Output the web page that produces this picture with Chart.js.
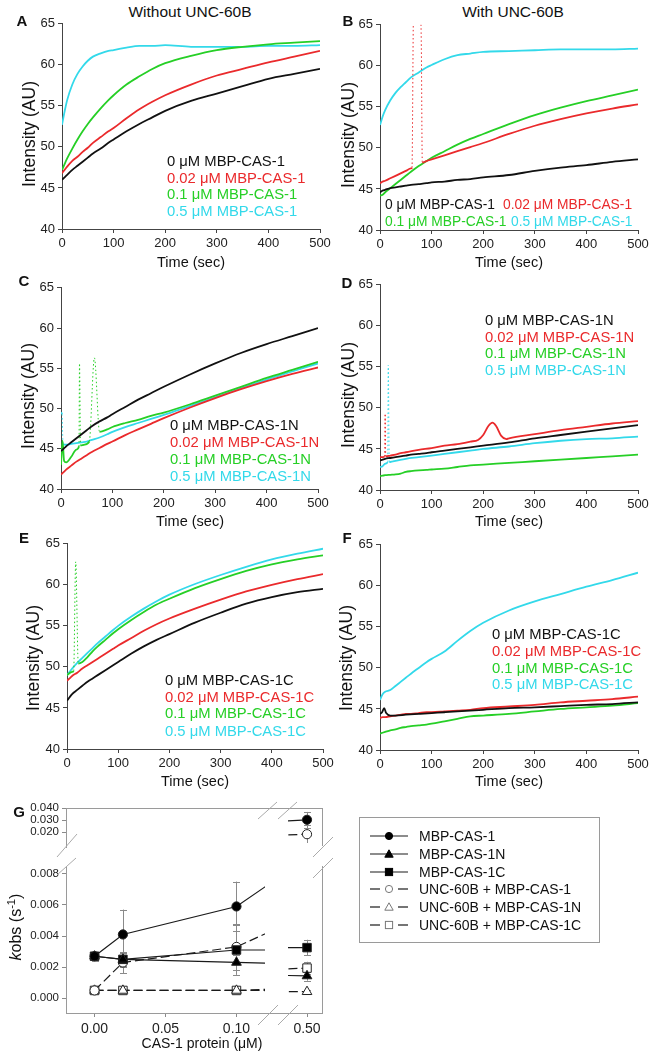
<!DOCTYPE html>
<html lang="en">
<head>
<meta charset="UTF-8">
<title>CAS-1 / UNC-60B kinetics</title>
<script src="https://cdn.jsdelivr.net/npm/chart.js"></script>
<style>
  body { margin: 0; background: #fff; font-family: "Liberation Sans", Arial, sans-serif; color: #111; }
  #page { position: relative; width: 653px; height: 1058px; overflow: hidden; }
  .cv { position: absolute; }
  .t { position: absolute; white-space: nowrap; line-height: 1; transform: translate(0, -50%); }
  .c { transform: translate(-50%, -50%); }
  .rot { transform: translate(-50%, -50%) rotate(-90deg); }
  .lbl { font-weight: bold; font-size: 15px; }
  .ttl { font-size: 15.5px; }
  .axt { font-size: 14.5px; }
  .ayt { font-size: 17.5px; }
  .leg { font-size: 14.5px; }
  #gLegend { position: absolute; left: 359px; top: 817px; width: 239px; height: 124px; border: 1px solid #9a9a9a; }
  #deco { position: absolute; left: 0; top: 0; }
</style>
</head>
<body>
<div id="page">
  <div class="t c ttl" style="left:190px;top:12px">Without UNC-60B</div>
  <div class="t c ttl" style="left:513px;top:12px">With UNC-60B</div>
</div>

<script>
  // ---- kinetics traces (time in sec, intensity in AU) ----
  const T = [0, 5, 10, 20, 30, 40, 50, 60, 75, 90, 100, 125, 150, 175, 200, 250, 300, 350, 400, 450, 500];

  // A: without UNC-60B, MBP-CAS-1
  const aBlack = [46.0, 46.3, 46.6, 47.2, 47.7, 48.2, 48.7, 49.2, 49.8, 50.5, 50.9, 51.9, 52.8, 53.6, 54.4, 55.6, 56.5, 57.4, 58.3, 58.9, 59.5];
  const aRed   = [46.8, 47.2, 47.6, 48.3, 48.8, 49.4, 49.9, 50.5, 51.2, 51.9, 52.3, 53.5, 54.6, 55.5, 56.3, 57.6, 58.7, 59.5, 60.3, 61.0, 61.7];
  const aGreen = [47.2, 47.9, 48.6, 49.8, 50.9, 51.9, 52.8, 53.6, 54.7, 55.7, 56.3, 57.6, 58.6, 59.5, 60.2, 61.1, 61.8, 62.2, 62.5, 62.7, 62.9];
  const aCyan  = [52.7, 54.3, 55.7, 57.6, 58.9, 59.8, 60.5, 61.0, 61.4, 61.7, 61.8, 62.1, 62.3, 62.3, 62.4, 62.2, 62.2, 62.2, 62.3, 62.3, 62.4];

  // B: with UNC-60B, MBP-CAS-1
  const bBlack = [44.6, 44.8, 44.9, 45.1, 45.2, 45.3, 45.4, 45.5, 45.6, 45.7, 45.8, 45.9, 46.1, 46.2, 46.4, 46.7, 47.2, 47.6, 47.9, 48.3, 48.6];
  const bRedT  = [0, 5, 10, 20, 30, 40, 50, 60, 62, 65, 78, 80, 82, 90, 100, 125, 150, 175, 200, 250, 300, 350, 400, 450, 500];
  const bRed   = [45.7, 45.9, 46.0, 46.3, 46.6, 46.9, 47.2, 47.5, 47.6, 66.5, 66.5, 63.0, 48.2, 48.4, 48.6, 49.1, 49.6, 50.1, 50.6, 51.7, 52.7, 53.5, 54.2, 54.8, 55.3];
  const bGreen = [44.2, 44.3, 44.6, 45.1, 45.6, 46.1, 46.6, 47.1, 47.8, 48.4, 48.8, 49.6, 50.4, 51.1, 51.7, 52.9, 54.0, 54.9, 55.7, 56.4, 57.1];
  const bCyan  = [52.8, 53.8, 54.6, 55.8, 56.7, 57.4, 58.0, 58.6, 59.2, 59.8, 60.1, 60.8, 61.3, 61.5, 61.7, 61.8, 61.9, 62.0, 62.0, 62.0, 62.1];

  // C: without UNC-60B, MBP-CAS-1N
  const cBlack  = [44.7, 45.0, 45.3, 45.8, 46.3, 46.8, 47.3, 47.8, 48.4, 48.9, 49.3, 50.2, 51.1, 51.9, 52.7, 54.2, 55.6, 56.9, 58.0, 59.0, 60.0];
  const cRed    = [41.8, 42.1, 42.4, 42.9, 43.4, 43.8, 44.2, 44.6, 45.1, 45.6, 45.9, 46.7, 47.4, 48.1, 48.8, 50.1, 51.3, 52.4, 53.4, 54.3, 55.1];
  const cGreenT = [0, 3, 6, 10, 20, 30, 35, 36, 38, 45, 55, 65, 75, 90, 100, 125, 150, 175, 200, 250, 300, 350, 400, 450, 500];
  const cGreen  = [43.0, 46.0, 43.5, 43.3, 44.0, 44.9, 45.3, 55.6, 45.4, 45.5, 45.9, 56.3, 47.1, 47.4, 47.7, 48.2, 48.6, 49.1, 49.5, 50.5, 51.6, 52.7, 53.8, 54.8, 55.8];
  const cCyanT  = [0, 2, 4, 10, 20, 30, 40, 50, 60, 75, 90, 100, 125, 150, 175, 200, 250, 300, 350, 400, 450, 500];
  const cCyan   = [49.5, 49.3, 45.6, 45.5, 45.6, 45.7, 45.8, 45.9, 46.1, 46.4, 46.8, 47.1, 47.7, 48.2, 48.7, 49.2, 50.3, 51.4, 52.5, 53.6, 54.6, 55.6];

  // D: with UNC-60B, MBP-CAS-1N
  const dBlack = [43.6, 43.7, 43.8, 43.9, 44.0, 44.1, 44.2, 44.3, 44.4, 44.5, 44.6, 44.8, 45.0, 45.2, 45.4, 45.8, 46.3, 46.7, 47.1, 47.5, 47.9];
  const dRedT  = [0, 5, 9, 10, 11, 20, 30, 40, 50, 75, 100, 125, 150, 175, 190, 200, 210, 218, 225, 235, 245, 250, 300, 350, 400, 450, 500];
  const dRed   = [44.0, 44.0, 44.1, 49.3, 44.1, 44.2, 44.3, 44.5, 44.6, 44.9, 45.1, 45.4, 45.6, 45.9, 46.1, 46.7, 47.8, 48.2, 47.8, 46.6, 46.2, 46.3, 46.8, 47.3, 47.7, 48.1, 48.4];
  const dGreen = [41.7, 41.75, 41.8, 41.85, 41.9, 42.0, 42.2, 42.3, 42.4, 42.45, 42.5, 42.6, 42.8, 43.0, 43.1, 43.3, 43.5, 43.7, 43.9, 44.1, 44.3];
  const dCyanT = [0, 5, 10, 15, 16, 18, 25, 50, 75, 100, 125, 150, 175, 200, 250, 300, 350, 400, 450, 500];
  const dCyan  = [42.8, 42.9, 43.2, 43.4, 55.2, 43.4, 43.5, 43.8, 44.0, 44.2, 44.4, 44.6, 44.8, 45.0, 45.3, 45.7, 46.0, 46.2, 46.3, 46.5];

  // E: without UNC-60B, MBP-CAS-1C
  const eBlack  = [45.9, 46.3, 46.7, 47.2, 47.7, 48.2, 48.6, 49.0, 49.6, 50.2, 50.6, 51.6, 52.5, 53.3, 54.0, 55.4, 56.6, 57.7, 58.5, 59.1, 59.5];
  const eRed    = [48.3, 48.6, 48.9, 49.3, 49.8, 50.2, 50.6, 51.0, 51.6, 52.2, 52.6, 53.5, 54.4, 55.2, 55.9, 57.1, 58.2, 59.2, 60.0, 60.7, 61.3];
  const eGreenT = [0, 10, 13, 17, 22, 30, 40, 50, 60, 75, 90, 100, 125, 150, 175, 200, 250, 300, 350, 400, 450, 500];
  const eGreen  = [49.0, 49.4, 49.5, 62.8, 50.4, 50.6, 51.2, 51.9, 52.5, 53.3, 54.1, 54.6, 55.7, 56.7, 57.6, 58.3, 59.6, 60.7, 61.7, 62.5, 63.1, 63.6];
  const eCyan   = [49.0, 49.4, 49.8, 50.5, 51.1, 51.7, 52.3, 52.9, 53.7, 54.5, 55.0, 56.1, 57.1, 58.0, 58.8, 60.1, 61.2, 62.2, 63.1, 63.8, 64.4];

  // F: with UNC-60B, MBP-CAS-1C
  const fBlackT = [0, 4, 8, 12, 20, 30, 50, 75, 100, 125, 150, 200, 250, 300, 350, 400, 450, 500];
  const fBlack  = [44.4, 44.6, 45.1, 44.5, 44.2, 44.2, 44.3, 44.4, 44.5, 44.6, 44.7, 44.9, 45.1, 45.2, 45.35, 45.5, 45.6, 45.8];
  const fRed    = [43.9, 44.0, 44.0, 44.1, 44.2, 44.3, 44.4, 44.4, 44.5, 44.6, 44.6, 44.7, 44.8, 44.9, 45.1, 45.3, 45.5, 45.8, 46.0, 46.2, 46.5];
  const fGreen  = [42.0, 42.1, 42.2, 42.4, 42.5, 42.7, 42.8, 42.9, 43.0, 43.1, 43.2, 43.5, 43.8, 44.1, 44.2, 44.4, 44.7, 45.0, 45.2, 45.4, 45.7];
  const fCyan   = [46.1, 46.8, 47.1, 47.3, 47.8, 48.3, 48.8, 49.3, 50.0, 50.7, 51.1, 52.0, 53.3, 54.5, 55.5, 57.0, 58.1, 59.0, 59.9, 60.7, 61.6];

  const TIME_TICKS = [0, 100, 200, 300, 400, 500];
  const INT_TICKS = [40, 45, 50, 55, 60, 65];
  const CONC_LABELS = ['0', '0.02', '0.1', '0.5'];

  // ---- G: kobs vs CAS-1 concentration ----
  const gConc = [0, 0.02, 0.10, 0.50];
  const cas1     = [0.0027, 0.0041, 0.0059, 0.0310];
  const cas1Err  = [0.0003, 0.0016, 0.0016, 0.0060];
  const cas1N    = [0.0027, 0.0025, 0.0023, 0.0014];
  const cas1NErr = [0.0002, 0.0004, 0.0005, 0.0003];
  const cas1C    = [0.0027, 0.0025, 0.0031, 0.0032];
  const cas1CErr = [0.0002, 0.0005, 0.0016, 0.0005];
  const unc1     = [0.0005, 0.0023, 0.0033, 0.0200];
  const unc1Err  = [0.0001, 0.0007, 0.0015, 0.0070];
  const unc1N    = [0.0005, 0.0005, 0.0005, 0.0004];
  const unc1NErr = [0.0001, 0.0001, 0.0001, 0.0001];
  const unc1C    = [0.0005, 0.0005, 0.0005, 0.0019];
  const unc1CErr = [0.0001, 0.0001, 0.0001, 0.0004];

  const G_XTICKS_LEFT = [0, 0.05, 0.10];
  const G_XTICKS_RIGHT = [0.50];
  const G_YTICKS_LOW = [0, 0.002, 0.004, 0.006, 0.008];
  const G_YTICKS_HIGH = [0.020, 0.030, 0.040];

  const COLORS = ['#111111', '#ea2a2c', '#26cf26', '#33d9ea'];
  const FONT = '"Liberation Sans", Arial, sans-serif';
  Chart.defaults.font.family = FONT;

  const page = document.getElementById('page');

  function addText(x, y, html, cls, style) {
    const d = document.createElement('div');
    d.className = 't ' + cls;
    d.style.left = x + 'px';
    d.style.top = y + 'px';
    if (style) Object.assign(d.style, style);
    d.innerHTML = html;
    page.appendChild(d);
    return d;
  }

  const PANELS = [
    { key: 'A', rect: [62, 23, 320, 229], protein: 'MBP-CAS-1', legSize: 14.8,
      series: [[T, aBlack], [T, aRed], [T, aGreen], [T, aCyan]],
      legend: [[167, 161], [167, 178], [167, 194], [167, 211]],
      letter: [22, 20], xt: [191, 262], yt: [30, 134] },
    { key: 'B', rect: [380, 24, 638, 230], protein: 'MBP-CAS-1', legSize: 13.8,
      series: [[T, bBlack], [bRedT, bRed], [T, bGreen], [T, bCyan]],
      legend: [[385, 205], [503, 205], [385, 222], [511, 222]],
      letter: [348, 20], xt: [509, 262], yt: [349, 135] },
    { key: 'C', rect: [61, 287, 318, 489], protein: 'MBP-CAS-1N', legSize: 14.8,
      series: [[T, cBlack], [T, cRed], [cGreenT, cGreen], [cCyanT, cCyan]],
      legend: [[170, 425], [170, 442], [170, 459], [170, 476]],
      letter: [24, 280], xt: [190, 521], yt: [29, 396] },
    { key: 'D', rect: [380, 284, 638, 490], protein: 'MBP-CAS-1N', legSize: 14.8,
      series: [[T, dBlack], [dRedT, dRed], [T, dGreen], [dCyanT, dCyan]],
      legend: [[485, 320], [485, 337], [485, 353], [485, 370]],
      letter: [347, 282], xt: [509, 521], yt: [349, 395] },
    { key: 'E', rect: [67, 543, 323, 749], protein: 'MBP-CAS-1C', legSize: 14.8,
      series: [[T, eBlack], [T, eRed], [eGreenT, eGreen], [T, eCyan]],
      legend: [[165, 680], [165, 697], [165, 713], [165, 731]],
      letter: [24, 537], xt: [195, 781], yt: [34, 658] },
    { key: 'F', rect: [380, 544, 638, 750], protein: 'MBP-CAS-1C', legSize: 14.8,
      series: [[fBlackT, fBlack], [T, fRed], [T, fGreen], [T, fCyan]],
      legend: [[492, 634], [492, 651], [492, 668], [492, 684]],
      letter: [347, 537], xt: [509, 781], yt: [347, 658] }
  ];

  const isSpike = c => Math.abs(c.p1.parsed.y - c.p0.parsed.y) > 3;

  function tickFix(list) {
    return s => { s.ticks = list.map(v => ({ value: v })); };
  }

  function makeCanvas(left, top, w, h) {
    const cv = document.createElement('canvas');
    cv.className = 'cv';
    cv.width = w; cv.height = h;
    cv.style.left = left + 'px'; cv.style.top = top + 'px';
    page.appendChild(cv);
    return cv;
  }

  function makePanel(p) {
    const [L, Tp, R, B] = p.rect;
    const padL = 60, padT = 10, padR = 16, padB = 26;
    const cv = makeCanvas(L - padL, Tp - padT, R - L + padL + padR, B - Tp + padT + padB);
    const axisGrid = { drawOnChartArea: false, drawTicks: true, tickLength: 4, color: '#444', lineWidth: 1 };
    const axisTicks = { font: { size: 13 }, color: '#222', padding: 3, autoSkip: false, maxRotation: 0 };
    new Chart(cv, {
      type: 'line',
      data: {
        datasets: p.series.map((s, i) => ({
          data: s[0].map((t, j) => ({ x: t, y: s[1][j] })),
          borderColor: COLORS[i],
          borderWidth: 1.8,
          pointRadius: 0,
          cubicInterpolationMode: 'monotone',
          segment: {
            borderDash: c => isSpike(c) ? [1.5, 2.5] : undefined,
            borderWidth: c => isSpike(c) ? 1 : undefined
          }
        }))
      },
      options: {
        responsive: false, animation: false, events: [],
        layout: { padding: { left: 0, top: padT, right: padR, bottom: 0 } },
        plugins: { legend: { display: false }, tooltip: { enabled: false } },
        scales: {
          x: { type: 'linear', min: 0, max: 500,
               afterFit: s => { s.height = padB; }, afterBuildTicks: tickFix(TIME_TICKS),
               ticks: axisTicks, grid: axisGrid, border: { display: true, color: '#444' } },
          y: { type: 'linear', min: 40, max: 65,
               afterFit: s => { s.width = padL; }, afterBuildTicks: tickFix(INT_TICKS),
               ticks: axisTicks, grid: axisGrid, border: { display: true, color: '#444' } }
        }
      }
    });
    addText(p.letter[0], p.letter[1], p.key, 'c lbl');
    addText(p.xt[0], p.xt[1], 'Time (sec)', 'c axt');
    addText(p.yt[0], p.yt[1], 'Intensity (AU)', 'rot ayt');
    p.legend.forEach((pos, i) => {
      addText(pos[0], pos[1], CONC_LABELS[i] + ' \u03bcM ' + p.protein, 'leg',
              { color: COLORS[i], fontSize: p.legSize + 'px' });
    });
  }

  PANELS.forEach(makePanel);

  // ---- panel G: four pieces of a broken-axis plot ----
  const G_SERIES = [
    { label: 'MBP-CAS-1', y: cas1, err: cas1Err, shape: 'circle', filled: true, dashed: false },
    { label: 'MBP-CAS-1N', y: cas1N, err: cas1NErr, shape: 'triangle', filled: true, dashed: false },
    { label: 'MBP-CAS-1C', y: cas1C, err: cas1CErr, shape: 'rect', filled: true, dashed: false },
    { label: 'UNC-60B + MBP-CAS-1', y: unc1, err: unc1Err, shape: 'circle', filled: false, dashed: true },
    { label: 'UNC-60B + MBP-CAS-1N', y: unc1N, err: unc1NErr, shape: 'triangle', filled: false, dashed: true },
    { label: 'UNC-60B + MBP-CAS-1C', y: unc1C, err: unc1CErr, shape: 'rect', filled: false, dashed: true }
  ];
  const MARK_R = { circle: 4.6, triangle: 5.6, rect: 6 };

  const errorBars = {
    id: 'errorBars',
    beforeDatasetsDraw(chart) {
      const { ctx, chartArea: a, scales: { x, y } } = chart;
      ctx.save();
      ctx.beginPath(); ctx.rect(a.left, a.top, a.right - a.left, a.bottom - a.top); ctx.clip();
      ctx.strokeStyle = '#8a8a8a'; ctx.lineWidth = 1;
      chart.data.datasets.forEach(ds => {
        (ds.errorBars || []).forEach((e, i) => {
          const pt = ds.data[i];
          const px = Math.round(x.getPixelForValue(pt.x)) + 0.5;
          const yl = y.getPixelForValue(pt.y - e), yh = y.getPixelForValue(pt.y + e);
          ctx.beginPath();
          ctx.moveTo(px, yl); ctx.lineTo(px, yh);
          ctx.moveTo(px - 3.5, Math.round(yl) + 0.5); ctx.lineTo(px + 3.5, Math.round(yl) + 0.5);
          ctx.moveTo(px - 3.5, Math.round(yh) + 0.5); ctx.lineTo(px + 3.5, Math.round(yh) + 0.5);
          ctx.stroke();
        });
      });
      ctx.restore();
    }
  };

  const G_PARTS = [
    { rect: [66, 866, 268, 1013], xr: [-0.0201, 0.1201], yr: [-0.00095, 0.00838], xt: G_XTICKS_LEFT, yt: G_YTICKS_LOW },
    { rect: [66, 808, 268, 848], xr: [-0.0201, 0.1201], yr: [0.0133, 0.040], xt: null, yt: G_YTICKS_HIGH },
    { rect: [288, 866, 323, 1013], xr: [0.4868, 0.5111], yr: [-0.00095, 0.00838], xt: G_XTICKS_RIGHT, yt: null },
    { rect: [288, 808, 323, 848], xr: [0.4868, 0.5111], yr: [0.0133, 0.040], xt: null, yt: null }
  ];

  function makeGPart(part) {
    const [L, Tp, R, B] = part.rect;
    const padL = part.yt ? 50 : 20, padR = part.yt ? 4 : 20;
    const padT = Tp < 840 ? 10 : 8, padB = part.xt ? 24 : 2;
    const cv = makeCanvas(L - padL, Tp - padT, R - L + padL + padR, B - Tp + padT + padB);
    const grid = { drawOnChartArea: false, drawTicks: true, tickLength: 4, color: '#8a8a8a', lineWidth: 1 };
    new Chart(cv, {
      type: 'line',
      data: {
        datasets: G_SERIES.map(s => ({
          data: gConc.map((c, i) => ({ x: c, y: s.y[i] })),
          errorBars: s.err,
          borderColor: '#1a1a1a', borderWidth: 1.2,
          borderDash: s.dashed ? [9, 4] : [],
          tension: 0, clip: 0,
          pointStyle: s.shape, pointRadius: MARK_R[s.shape],
          pointBackgroundColor: s.filled ? '#000' : '#fff',
          pointBorderColor: '#222', pointBorderWidth: 1
        }))
      },
      plugins: [errorBars],
      options: {
        responsive: false, animation: false, events: [],
        layout: { padding: { left: part.yt ? 0 : padL, top: padT, right: padR, bottom: part.xt ? 0 : padB } },
        plugins: { legend: { display: false }, tooltip: { enabled: false } },
        scales: {
          // the x range is set after the data limits so that segments reaching
          // in from points outside this piece are still drawn (then clipped)
          x: { type: 'linear', display: !!part.xt, bounds: 'data',
               afterDataLimits: s => { s.min = part.xr[0]; s.max = part.xr[1]; },
               afterFit: s => { if (part.xt) s.height = padB; },
               afterBuildTicks: tickFix(part.xt || []),
               ticks: { font: { size: 14 }, color: '#222', padding: 4, autoSkip: false, maxRotation: 0,
                        callback: v => Number(v).toFixed(2) },
               grid: grid, border: { display: false } },
          y: { type: 'linear', display: !!part.yt, min: part.yr[0], max: part.yr[1],
               afterFit: s => { if (part.yt) s.width = padL; },
               afterBuildTicks: tickFix(part.yt || []),
               ticks: { font: { size: 11.5 }, color: '#222', padding: 3, autoSkip: false,
                        callback: v => Number(v).toFixed(3) },
               grid: grid, border: { display: false } }
        }
      }
    });
  }

  G_PARTS.forEach(makeGPart);

  // frame and axis-break marks of panel G
  const NS = 'http://www.w3.org/2000/svg';
  const deco = document.createElementNS(NS, 'svg');
  deco.setAttribute('id', 'deco');
  deco.setAttribute('width', 653); deco.setAttribute('height', 1058);
  const FRAME = [
    [66, 808.5, 323, 808.5], [66, 1013.5, 323, 1013.5],
    [66.5, 808, 66.5, 848], [66.5, 866, 66.5, 1013.5],
    [322.5, 808, 322.5, 846], [322.5, 866, 322.5, 1013.5]
  ];
  const BREAKS = [
    [258, 819, 277, 802], [278, 819, 297, 802],
    [258, 1025, 278, 1005], [278, 1025, 298, 1005],
    [57, 857, 77, 834], [57, 875, 76, 858],
    [313, 857, 333, 837], [313, 878, 333, 858]
  ];
  FRAME.concat(BREAKS).forEach((l, i) => {
    const ln = document.createElementNS(NS, 'line');
    ln.setAttribute('x1', l[0]); ln.setAttribute('y1', l[1]);
    ln.setAttribute('x2', l[2]); ln.setAttribute('y2', l[3]);
    ln.setAttribute('stroke', i < FRAME.length ? '#9a9a9a' : '#aaaaaa');
    ln.setAttribute('stroke-width', 1);
    deco.appendChild(ln);
  });
  page.appendChild(deco);

  addText(19, 811, 'G', 'c lbl');
  addText(15, 927, '<i>k</i>obs (s<sup style="font-size:70%">-1</sup>)', 'rot', { fontSize: '16px' });
  addText(202, 1043, 'CAS-1 protein (\u03bcM)', 'c', { fontSize: '14px' });

  // legend of panel G
  const legBox = document.createElement('div');
  legBox.id = 'gLegend';
  page.appendChild(legBox);
  G_SERIES.forEach((s, i) => {
    const yc = 18 + i * 17.8;
    const svg = document.createElementNS(NS, 'svg');
    svg.setAttribute('width', 40); svg.setAttribute('height', 12);
    svg.style.position = 'absolute';
    svg.style.left = '10px'; svg.style.top = (yc - 6) + 'px';
    const segs = s.dashed ? [[0, 10], [28, 38]] : [[0, 38]];
    segs.forEach(g => {
      const ln = document.createElementNS(NS, 'line');
      ln.setAttribute('x1', g[0]); ln.setAttribute('x2', g[1]);
      ln.setAttribute('y1', 6); ln.setAttribute('y2', 6);
      ln.setAttribute('stroke', '#1a1a1a'); ln.setAttribute('stroke-width', 1.2);
      svg.appendChild(ln);
    });
    let m;
    if (s.shape === 'circle') {
      m = document.createElementNS(NS, 'circle');
      m.setAttribute('cx', 19); m.setAttribute('cy', 6); m.setAttribute('r', 3.6);
    } else if (s.shape === 'triangle') {
      m = document.createElementNS(NS, 'polygon');
      m.setAttribute('points', '19,1.8 23.2,9.2 14.8,9.2');
    } else {
      m = document.createElementNS(NS, 'rect');
      m.setAttribute('x', 15.4); m.setAttribute('y', 2.4); m.setAttribute('width', 7.2); m.setAttribute('height', 7.2);
    }
    m.setAttribute('fill', s.filled ? '#000' : '#fff');
    m.setAttribute('stroke', s.filled ? '#000' : '#777');
    m.setAttribute('stroke-width', 1);
    svg.appendChild(m);
    legBox.appendChild(svg);
    const tx = document.createElement('div');
    tx.className = 't';
    tx.style.left = '59px'; tx.style.top = yc + 'px'; tx.style.fontSize = '14px';
    tx.textContent = s.label;
    legBox.appendChild(tx);
  });
</script>
</body>
</html>
